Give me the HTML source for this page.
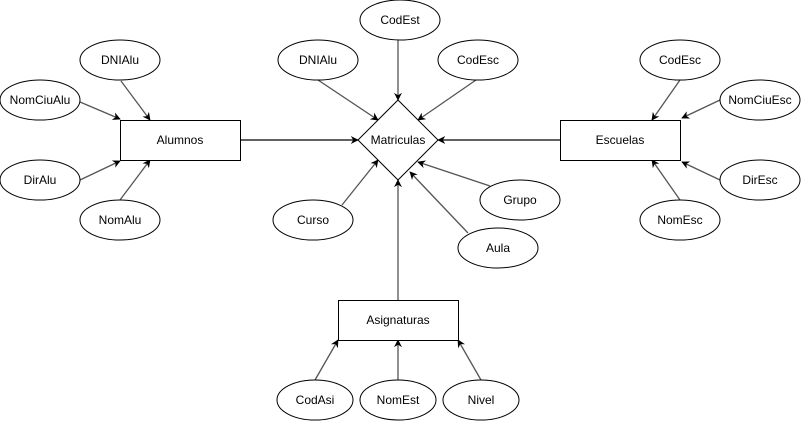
<!DOCTYPE html>
<html><head><meta charset="utf-8"><style>body{margin:0;background:#fff}svg{display:block}text{font-family:"Liberation Sans",Arial,sans-serif;font-size:12px;text-anchor:middle;dominant-baseline:central;fill:#000}</style></head><body>
<svg width="801" height="421" viewBox="0 0 801 421" xmlns="http://www.w3.org/2000/svg">
<defs><marker id="a" viewBox="0 0 10 10" refX="9" refY="5" markerWidth="8" markerHeight="8" markerUnits="userSpaceOnUse" orient="auto"><path d="M0,0 L10,5 L0,10 L3,5 z" fill="#000"/></marker></defs>
<g stroke="#555" stroke-width="1.3" fill="none" marker-end="url(#a)">
<line x1="121" y1="81" x2="150" y2="120"/>
<line x1="80" y1="102" x2="120" y2="119"/>
<line x1="80" y1="180" x2="120" y2="161"/>
<line x1="120" y1="200" x2="150" y2="160"/>
<line x1="318" y1="80" x2="378" y2="120"/>
<line x1="476" y1="80" x2="418" y2="120"/>
<line x1="490" y1="186" x2="418" y2="162"/>
<line x1="468" y1="233" x2="410" y2="172"/>
<line x1="342" y1="205" x2="378" y2="160"/>
<line x1="398" y1="300" x2="398" y2="180"/>
<line x1="398" y1="40" x2="398" y2="100"/>
<line x1="315" y1="380" x2="338" y2="340"/>
<line x1="398" y1="380" x2="398" y2="340"/>
<line x1="481" y1="380" x2="458" y2="340"/>
<line x1="680" y1="80" x2="652" y2="120"/>
<line x1="720" y1="100" x2="682" y2="118"/>
<line x1="720" y1="180" x2="682" y2="162"/>
<line x1="680" y1="200" x2="652" y2="160"/>
</g>
<g stroke="#000" stroke-width="1.3" marker-end="url(#a)">
<line x1="240" y1="140" x2="358" y2="140"/>
<line x1="560" y1="140" x2="438" y2="140"/>
</g>
<g stroke="#000" stroke-width="1" fill="#fff">
<rect x="120.5" y="120.5" width="120" height="40"/>
<rect x="560.5" y="120.5" width="120" height="40"/>
<rect x="338.5" y="300.5" width="120" height="40"/>
<polygon points="398,100 438,140 398,180 358,140"/>
<ellipse cx="120" cy="60" rx="40" ry="20"/>
<ellipse cx="40" cy="100" rx="40" ry="20"/>
<ellipse cx="40" cy="180" rx="40" ry="20"/>
<ellipse cx="120" cy="220" rx="40" ry="20"/>
<ellipse cx="318" cy="60" rx="40" ry="20"/>
<ellipse cx="400" cy="20" rx="40" ry="20"/>
<ellipse cx="478" cy="60" rx="40" ry="20"/>
<ellipse cx="313" cy="220" rx="40" ry="20"/>
<ellipse cx="520" cy="200" rx="40" ry="20"/>
<ellipse cx="498" cy="248" rx="40" ry="20"/>
<ellipse cx="680" cy="60" rx="40" ry="20"/>
<ellipse cx="760" cy="100" rx="40" ry="20"/>
<ellipse cx="760" cy="180" rx="40" ry="20"/>
<ellipse cx="680" cy="220" rx="40" ry="20"/>
<ellipse cx="315" cy="400" rx="38" ry="20"/>
<ellipse cx="398" cy="400" rx="38" ry="20"/>
<ellipse cx="481" cy="400" rx="38" ry="20"/>
</g>
<text x="180" y="140">Alumnos</text>
<text x="620" y="140">Escuelas</text>
<text x="398" y="320">Asignaturas</text>
<text x="398" y="140">Matriculas</text>
<text x="120" y="60">DNIAlu</text>
<text x="40" y="100">NomCiuAlu</text>
<text x="40" y="180">DirAlu</text>
<text x="120" y="220">NomAlu</text>
<text x="318" y="60">DNIAlu</text>
<text x="400" y="20">CodEst</text>
<text x="478" y="60">CodEsc</text>
<text x="313" y="220">Curso</text>
<text x="520" y="200">Grupo</text>
<text x="498" y="248">Aula</text>
<text x="680" y="60">CodEsc</text>
<text x="760" y="100">NomCiuEsc</text>
<text x="760" y="180">DirEsc</text>
<text x="680" y="220">NomEsc</text>
<text x="315" y="400">CodAsi</text>
<text x="398" y="400">NomEst</text>
<text x="481" y="400">Nivel</text>
</svg>
</body></html>
